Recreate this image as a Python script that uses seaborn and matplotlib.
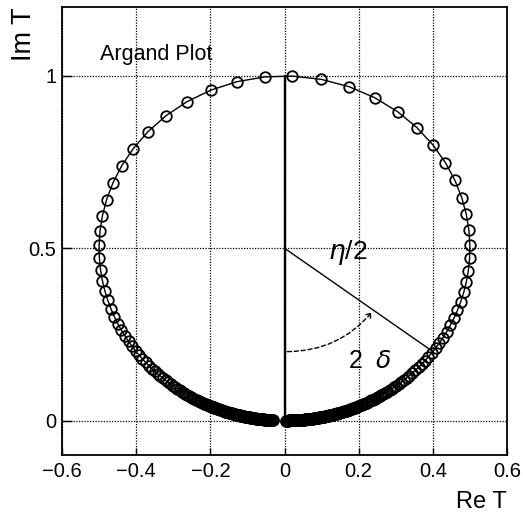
import numpy as np
import pandas as pd
import matplotlib
matplotlib.use("Agg")
import matplotlib.pyplot as plt
import seaborn as sns
from matplotlib.patches import FancyArrowPatch

# Phase shift delta (degrees) of each scattering-amplitude point, in energy order
phase_shift_deg = [
    0.2, 0.3, 0.4, 0.5, 0.6, 0.7, 0.8, 0.9, 1.0, 1.1, 1.2, 1.3, 1.4, 1.5,
    1.6, 1.7, 1.8, 1.9, 2.0, 2.1, 2.2, 2.3, 2.4, 2.5, 2.6, 2.7, 2.8, 2.9,
    3.0, 3.1, 3.2, 3.3, 3.4, 3.5, 3.6, 3.7, 3.8, 3.9, 4.0, 4.1, 4.2, 4.3,
    4.4, 4.5, 4.6, 4.7, 4.8, 4.9, 5.0, 5.1, 5.2, 5.3, 5.4, 5.5, 5.6, 5.7,
    5.8, 5.9, 6.0, 6.1, 6.2, 6.3, 6.4, 6.5, 6.6, 6.7, 6.8, 6.9, 7.0, 7.1,
    7.2, 7.3, 7.4, 7.5, 7.6, 7.7, 7.8, 7.9, 8.0, 8.15, 8.3, 8.45, 8.6,
    8.75, 8.9, 9.05, 9.2, 9.35, 9.5, 9.65, 9.8, 9.95, 10.1, 10.25, 10.4,
    10.55, 10.7, 10.85, 11.0, 11.15, 11.35, 11.53, 11.72, 11.91, 12.11,
    12.32, 12.53, 12.75, 12.97, 13.21, 13.46, 13.71, 13.97, 14.24, 14.52,
    14.82, 15.12, 15.44, 15.77, 16.12,
    16.48, 16.86, 17.25, 17.67, 18.10, 18.55, 19.03, 19.53, 20.05, 20.60,
    21.18, 21.80, 22.45, 23.14, 23.87, 24.64, 25.46, 26.34, 27.27, 28.26,
    29.33, 30.47, 31.69, 33.00, 34.41, 35.93, 37.57, 39.34, 41.26, 43.33,
    45.58, 48.01, 50.65, 53.50, 56.58, 59.89, 63.43, 67.22, 71.22, 75.43,
    79.80, 84.29, 88.85,
    93.03, 97.41, 101.75, 105.91, 109.90, 113.75, 117.34, 120.71, 123.86,
    126.83, 129.56, 132.08, 134.45, 136.61, 138.63, 140.49, 142.22, 143.81,
    145.30, 146.70, 147.98, 149.18, 150.31, 151.36, 152.35, 153.28, 154.14,
    154.95, 155.73, 156.46, 157.14, 157.79, 158.41, 158.99, 159.55, 160.07,
    160.57, 161.05, 161.51, 161.95, 162.36, 162.76, 163.14, 163.51, 163.85,
    164.2, 164.5, 164.8, 165.1, 165.4, 165.7, 165.95, 166.2, 166.45, 166.7,
    166.95, 167.2, 167.4, 167.6, 167.8, 168.0, 168.15, 168.3, 168.45, 168.6,
    168.75, 168.9, 169.05, 169.2, 169.35, 169.5, 169.65, 169.8, 169.95,
    170.1, 170.25, 170.4, 170.55, 170.7, 170.85, 171.0, 171.15, 171.3,
    171.45, 171.6, 171.75, 171.9, 172.0, 172.1, 172.2, 172.3, 172.4, 172.5,
    172.6, 172.7, 172.8, 172.9, 173.0, 173.1, 173.2, 173.3, 173.4, 173.5,
    173.6, 173.7, 173.8, 173.9, 174.0, 174.1, 174.2, 174.3, 174.4, 174.5,
    174.6, 174.7, 174.8, 174.9, 175.0, 175.1, 175.2, 175.3, 175.4, 175.5,
    175.6, 175.7, 175.8, 175.9, 176.0, 176.1, 176.2, 176.3, 176.4, 176.5,
    176.6, 176.7, 176.8, 176.9, 177.0, 177.1, 177.2, 177.3, 177.4, 177.5,
    177.6, 177.7, 177.8, 177.9, 178.0, 178.1, 178.2, 178.25,
]

# Phase shift used for the illustrated radius / 2-delta angle
marked_delta_deg = 26.57

x_ticks = [-0.6, -0.4, -0.2, 0.0, 0.2, 0.4, 0.6]
x_tick_labels = ["\u22120.6", "\u22120.4", "\u22120.2", "0", "0.2", "0.4", "0.6"]
y_ticks = [0.0, 0.5, 1.0]
y_tick_labels = ["0", "0.5", "1"]


def amplitude(delta_deg):
    """Elastic partial-wave amplitude T = sin(delta) * exp(i delta)."""
    d = np.radians(delta_deg)
    return np.sin(d) * np.cos(d), np.sin(d) ** 2


re_t, im_t = amplitude(np.asarray(phase_shift_deg))
df = pd.DataFrame({"Re T": re_t, "Im T": im_t})

sns.set_theme(style="white")
plt.rcParams["font.family"] = ["Liberation Sans", "DejaVu Sans"]
plt.rcParams["mathtext.fontset"] = "dejavusans"
plt.rcParams["text.color"] = "black"
plt.rcParams["axes.labelcolor"] = "black"

W, H = 523, 516
fig = plt.figure(figsize=(W / 100, H / 100), dpi=100)
ax = fig.add_axes([62 / W, 61 / H, 445 / W, 448 / H])

ax.set_xlim(-0.6, 0.6)
ax.set_ylim(-0.1, 1.2)
ax.set_xticks(x_ticks)
ax.set_xticklabels(x_tick_labels)
ax.set_yticks(y_ticks)
ax.set_yticklabels(y_tick_labels)
ax.set_axisbelow(True)
ax.grid(True, color="black", linestyle=(0, (1, 1.2)), linewidth=0.9)

for s in ax.spines.values():
    s.set_color("black")
    s.set_linewidth(1.3)

ax.tick_params(axis="x", direction="in", length=5, width=1, bottom=True,
               top=False, labelsize=14.5, pad=5, colors="black")
ax.tick_params(axis="y", direction="in", length=7, width=1, left=True,
               right=False, labelsize=14.5, pad=4, colors="black")

# Unitarity-circle points joined by a line
sns.lineplot(data=df, x="Re T", y="Im T", sort=False, estimator=None,
             color="black", linewidth=1.0, marker="o", markersize=7.6,
             markerfacecolor="none", markeredgecolor="black",
             markeredgewidth=1.3, ax=ax, zorder=3)

# Imaginary axis from the origin up to the top of the circle
ax.plot([0, 0], [0, 1], color="black", linewidth=1.7, zorder=4)

# Radius of the circle (length eta/2) to the amplitude at the marked phase
center = (0.0, 0.5)
mx, my = amplitude(marked_delta_deg)
ax.plot([center[0], mx], [center[1], my], color="black", linewidth=1.0, zorder=4)

# Dashed arrow showing the angle 2*delta
arc_r = 0.3
ang = np.arctan2(my - center[1], mx - center[0])
start = (center[0], center[1] - arc_r)
end = (center[0] + arc_r * np.cos(ang), center[1] + arc_r * np.sin(ang))
arrow = FancyArrowPatch(start, end, connectionstyle="arc3,rad=0.24",
                        arrowstyle="->,head_length=3,head_width=2",
                        linestyle=(0, (3, 2)), linewidth=1.0, color="black",
                        zorder=4)
ax.add_patch(arrow)

ax.text(0.171, 0.489, r"$\eta$/2", fontsize=19, ha="center", va="center",
        color="black")
ax.text(0.231, 0.173, r"2  $\delta$", fontsize=18, ha="center", va="center",
        color="black")
ax.text(-0.498, 1.046, "Argand Plot", fontsize=15.5, ha="left",
        va="baseline", color="black")

ax.set_xlabel("Re T", fontsize=17, color="black")
ax.xaxis.set_label_coords(1.0, -(502 - 455) / 448)
ax.xaxis.label.set_ha("right")
ax.xaxis.label.set_va("center")
ax.set_ylabel("Im T", fontsize=19.5, color="black")
ax.yaxis.set_label_coords(-(62 - 24) / 445, 1.0)
ax.yaxis.label.set_ha("right")
ax.yaxis.label.set_va("center")

fig.savefig("out.png", dpi=100)
